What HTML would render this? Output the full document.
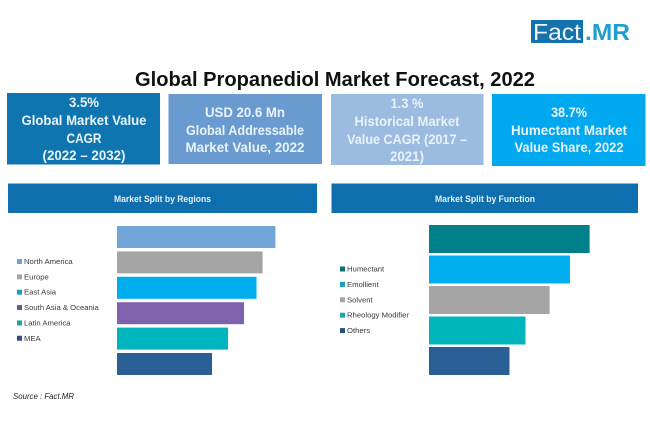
<!DOCTYPE html>
<html lang="en">
<head>
<meta charset="utf-8">
<title>Global Propanediol Market Forecast, 2022</title>
<style>
html,body{margin:0;padding:0;background:#fff;width:650px;height:443px;overflow:hidden}
svg{display:block;filter:blur(0.35px)}
text{font-family:"Liberation Sans",sans-serif}
.kpi{font-weight:bold;font-size:13.5px;fill:#e9f3fa;text-anchor:middle}
.head{font-weight:bold;font-size:9px;fill:#e6f0f7;text-anchor:middle}
.leg{font-size:7.7px;fill:#3a3a3a}
</style>
</head>
<body>
<svg id="chart" width="650" height="443" viewBox="0 0 650 443" xmlns="http://www.w3.org/2000/svg">
<rect width="650" height="443" fill="#fff"/>

<g>
<rect x="531" y="20" width="52" height="23" fill="#1473ad"/>
<text x="533" y="40" font-size="23" fill="#eef6fb" textLength="48" lengthAdjust="spacingAndGlyphs">Fact</text>
<text x="585" y="40" font-size="23" font-weight="bold" fill="#1f9fd0" textLength="45" lengthAdjust="spacingAndGlyphs">.MR</text>
</g>

<text x="135" y="86" font-size="20" font-weight="bold" fill="#111" textLength="400" lengthAdjust="spacingAndGlyphs">Global Propanediol Market Forecast, 2022</text>

<g>
<rect x="7" y="93" width="153" height="71.5" fill="#0f75b0"/>
<text class="kpi" x="84" y="107" textLength="30" lengthAdjust="spacingAndGlyphs">3.5%</text>
<text class="kpi" x="84" y="125" textLength="125" lengthAdjust="spacingAndGlyphs">Global Market Value</text>
<text class="kpi" x="84" y="143" textLength="35" lengthAdjust="spacingAndGlyphs">CAGR</text>
<text class="kpi" x="84" y="160" textLength="83" lengthAdjust="spacingAndGlyphs">(2022 – 2032)</text>
</g>

<g>
<rect x="168.5" y="94" width="153.5" height="70" fill="#6a9bd0"/>
<text class="kpi" x="245" y="117" textLength="80" lengthAdjust="spacingAndGlyphs">USD 20.6 Mn</text>
<text class="kpi" x="245" y="135" textLength="118" lengthAdjust="spacingAndGlyphs">Global Addressable</text>
<text class="kpi" x="245" y="152" textLength="119" lengthAdjust="spacingAndGlyphs">Market Value, 2022</text>
</g>

<g>
<rect x="331" y="94" width="152.5" height="71" fill="#9bbbe0"/>
<text class="kpi" x="407" y="108" textLength="33" lengthAdjust="spacingAndGlyphs">1.3 %</text>
<text class="kpi" x="407" y="126" textLength="105" lengthAdjust="spacingAndGlyphs">Historical Market</text>
<text class="kpi" x="407" y="144" textLength="120" lengthAdjust="spacingAndGlyphs">Value CAGR (2017 –</text>
<text class="kpi" x="407" y="161" textLength="34" lengthAdjust="spacingAndGlyphs">2021)</text>
</g>

<g>
<rect x="492" y="94" width="153.5" height="72" fill="#00a8ef"/>
<text class="kpi" x="569" y="117" textLength="36" lengthAdjust="spacingAndGlyphs">38.7%</text>
<text class="kpi" x="569" y="135" textLength="116" lengthAdjust="spacingAndGlyphs">Humectant Market</text>
<text class="kpi" x="569" y="152" textLength="109" lengthAdjust="spacingAndGlyphs">Value Share, 2022</text>
</g>

<g>
<rect x="8" y="183.5" width="309" height="29.5" fill="#0f6fae"/>
<text class="head" x="162.5" y="202" textLength="97" lengthAdjust="spacingAndGlyphs">Market Split by Regions</text>
</g>
<g>
<rect x="331.5" y="183.5" width="306.5" height="29.5" fill="#0f6fae"/>
<text class="head" x="485" y="202" textLength="100" lengthAdjust="spacingAndGlyphs">Market Split by Function</text>
</g>

<g id="regions-chart"></g>
<g id="function-chart"></g>

<text x="13" y="399" font-size="8.5" font-style="italic" fill="#222" textLength="61" lengthAdjust="spacingAndGlyphs">Source : Fact.MR</text>
</svg>

<script>
// Values are unit-less relative lengths (the source prints no axis).
const regionCategories = ['North America', 'Europe', 'East Asia', 'South Asia & Oceania', 'Latin America', 'MEA'];
const regionValues = [99, 91, 87.2, 79.4, 69.4, 59.4];
const functionCategories = ['Humectant', 'Emollient', 'Solvent', 'Rheology Modifier', 'Others'];
const functionValues = [100.4, 88.1, 75.4, 60.3, 50.3];

const regionBarColors = ['#72a5d8', '#a5a5a5', '#00aeef', '#7e62ab', '#00b5bd', '#2a5f95'];
const regionSwatchColors = ['#6fa3d5', '#a5a5a5', '#1c9cc9', '#5f5f8a', '#20a5a5', '#2b4f80'];
const functionBarColors = ['#00808a', '#00aeef', '#a5a5a5', '#00b5bd', '#2a5f95'];
const functionSwatchColors = ['#0f6f78', '#1c9cc9', '#a5a5a5', '#20a5a5', '#2b4f80'];

const NS = 'http://www.w3.org/2000/svg';

function lengthScale(v) {
  return v * 1.6;
}

function bandScale(i, top, step) {
  return top + i * step;
}

function makeRect(x, y, w, h, fill) {
  const r = document.createElementNS(NS, 'rect');
  r.setAttribute('x', x);
  r.setAttribute('y', y);
  r.setAttribute('width', w);
  r.setAttribute('height', h);
  r.setAttribute('fill', fill);
  return r;
}

function slug(s) {
  return s.toLowerCase().replace(/[^a-z0-9]+/g, '-');
}

function drawChart(root, categories, values, barColors, swatchColors, cfg) {
  categories.forEach(function (cat, i) {
    const bar = makeRect(cfg.barX, bandScale(i, cfg.barTop, cfg.barStep), lengthScale(values[i]), cfg.barH, barColors[i]);
    
    
    root.appendChild(bar);

    const cy = bandScale(i, cfg.legTop, cfg.legStep);
    const entry = document.createElementNS(NS, 'g');
    
    

    const sw = makeRect(cfg.swX, cy - 2.5, 5, 5, swatchColors[i]);
    
    
    entry.appendChild(sw);

    const t = document.createElementNS(NS, 'text');
    
    
    t.setAttribute('class', 'leg');
    t.setAttribute('x', cfg.swX + 7);
    t.setAttribute('y', cy + 2.5);
    t.textContent = cat;
    entry.appendChild(t);
    root.appendChild(entry);
  });
}

drawChart(document.getElementById('regions-chart'), regionCategories, regionValues, regionBarColors, regionSwatchColors,
  { barX: 117, barTop: 226, barStep: 25.4, barH: 22, swX: 17, legTop: 261.5, legStep: 15.35 });
drawChart(document.getElementById('function-chart'), functionCategories, functionValues, functionBarColors, functionSwatchColors,
  { barX: 429, barTop: 225, barStep: 30.5, barH: 28, swX: 340, legTop: 269, legStep: 15.4 });
</script>
</body>
</html>
